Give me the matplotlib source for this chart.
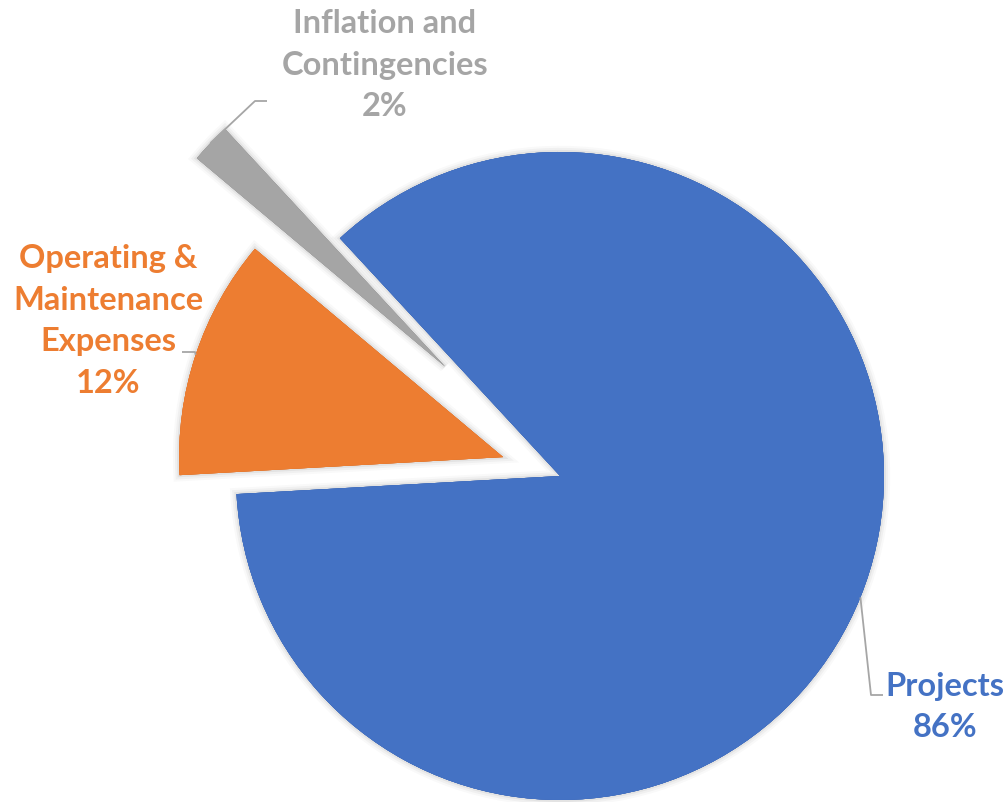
import numpy as np
import matplotlib.pyplot as plt
from matplotlib import patheffects as pe

# Data
categories = ["Projects", "Operating &\nMaintenance\nExpenses", "Inflation and\nContingencies"]
shares = [86, 12, 2]
colors = ["#4472C4", "#ED7D31", "#A5A5A5"]
explode_frac = [0.0, 0.185, 0.49]

# Layout (pixel-like data coords, y up)
W, H = 1007, 803
cx, cy, R = 560, 326, 324
label_pos = [(945, 96), (108, 482), (385, 738)]
elbows = [[(871, 107), (883, 107)],
          [(195, 450), (182, 450)],
          [(255, 701), (267, 701)]]

fig = plt.figure(figsize=(W / 100, H / 100), dpi=100)
ax = fig.add_axes([0, 0, 1, 1])

shadow = [pe.Stroke(linewidth=9, foreground=(0, 0, 0, 0.025)),
          pe.Stroke(linewidth=6, foreground=(0, 0, 0, 0.035)),
          pe.Stroke(linewidth=3, foreground=(0, 0, 0, 0.05)),
          pe.Normal()]

wedges, _ = ax.pie(shares, colors=colors, explode=[e * R for e in explode_frac],
                   startangle=132.8, counterclock=False, center=(cx, cy), radius=R,
                   wedgeprops=dict(linewidth=0))
for w in wedges:
    w.set_path_effects(shadow)

# leader lines + labels
for w, cat, val, col, pos, elb in zip(wedges, categories, shares, colors, label_pos, elbows):
    mid = np.radians((w.theta1 + w.theta2) / 2)
    ax0 = w.center[0] + w.r * np.cos(mid)
    ay0 = w.center[1] + w.r * np.sin(mid)
    xs = [ax0] + [p[0] for p in elb]
    ys = [ay0] + [p[1] for p in elb]
    ax.plot(xs, ys, color="#A6A6A6", lw=1.3, solid_capstyle="butt")
    ax.text(pos[0], pos[1], f"{cat}\n{val}%", color=col, fontsize=23.5,
            fontweight="bold", family="Lato", ha="center", va="center",
            multialignment="center", linespacing=1.52)

ax.set_xlim(0, W)
ax.set_ylim(0, H)
ax.set_aspect("equal")
ax.axis("off")

plt.savefig("out.png", dpi=100)
